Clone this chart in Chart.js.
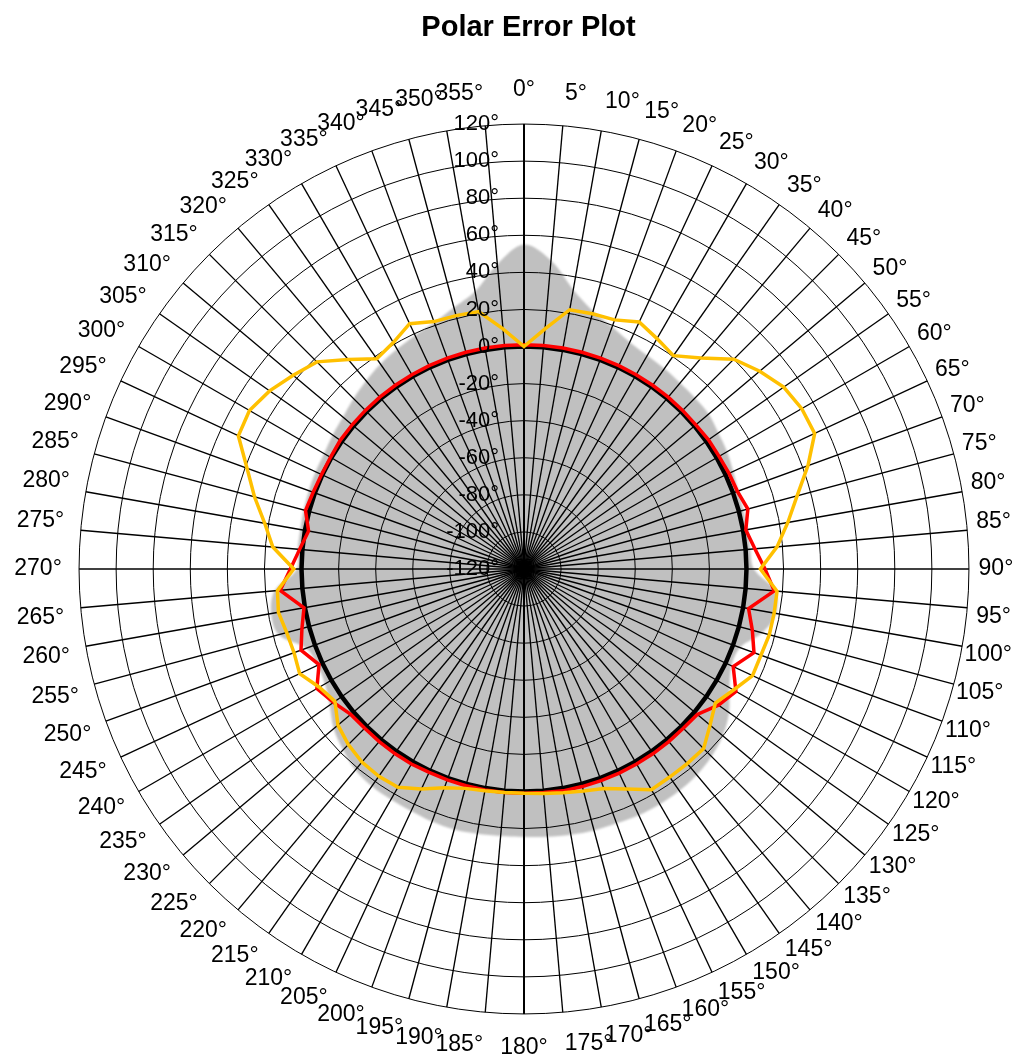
<!DOCTYPE html>
<html>
<head>
<meta charset="utf-8">
<title>Polar Error Plot</title>
<script src="https://cdn.jsdelivr.net/npm/chart.js@4.4.1/dist/chart.umd.min.js"></script>
<style>
  html, body { margin: 0; padding: 0; background: #fff; }
  #wrap { width: 1032px; height: 1057px; }
</style>
</head>
<body>
<div id="wrap"><canvas id="chart" width="1032" height="1057"></canvas></div>
<script>
// Bearing of each spoke, clockwise from north
const angles = [
  '0°','5°','10°','15°','20°','25°','30°','35°','40°','45°','50°','55°',
  '60°','65°','70°','75°','80°','85°','90°','95°','100°','105°','110°','115°',
  '120°','125°','130°','135°','140°','145°','150°','155°','160°','165°','170°','175°',
  '180°','185°','190°','195°','200°','205°','210°','215°','220°','225°','230°','235°',
  '240°','245°','250°','255°','260°','265°','270°','275°','280°','285°','290°','295°',
  '300°','305°','310°','315°','320°','325°','330°','335°','340°','345°','350°','355°'
];

// Radial axis ticks
const radialTicks = [-120, -100, -80, -60, -40, -20, 0, 20, 40, 60, 80, 100, 120];

// Reference level
const reference = [
  0,0,0,0,0,0,0,0,0,0,0,0, 0,0,0,0,0,0,0,0,0,0,0,0,
  0,0,0,0,0,0,0,0,0,0,0,0, 0,0,0,0,0,0,0,0,0,0,0,0,
  0,0,0,0,0,0,0,0,0,0,0,0, 0,0,0,0,0,0,0,0,0,0,0,0
];

// Measured error, series A
const seriesRed = [
  1, 1, 1, 1, 1, 1, 1, 1, 1, 1, 1, 1.5,
  1.5, 2, 2.5, 5, 1.5, 5, 10, 15.5, 3, 7.5, 12, 4.5,
  12, 8, 2, 1.5, 1.5, 1.5, 1.5, 1.5, 1.5, 1.5, 1.5, 1,
  1, 1, 1, 1, 1, 1, 1.5, 1.5, 1.5, 1.5, 2, 5.5,
  9, 2, 8, 4, 0.5, 12, 6, 1.5, -2, 2, 1, 0.5,
  0.5, 1, 1, 1, 1, 1, 1, 1, 1, 1, 1, 1
];

// Measured error, series B
const seriesOrange = [
  0, 10, 22, 22.5, 23, 27, 23.5, 20.5, 28.5, 40, 46, 51,
  53, 53, 43, 32.5, 24.5, 17, 7.5, 17, 17, 17, 16, 16,
  10.5, 6, 11, 17, 17, 17, 17.5, 11, 6, 4, 2.5, 1.5,
  1, 1, 1.5, 2.5, 5.5, 11, 16, 16.5, 16, 14, 11, 4.5,
  7.5, 13.5, 12, 12.5, 14.5, 13.5, 4.2, 16, 22, 30.5, 39, 50,
  51, 47.5, 42.5, 38, 27.5, 18.5, 21, 26, 22, 21.5, 21, 10
];

// Upper limit of the error band (band extends down to the scale minimum)
const errorUpper = [
  55, 47, 33, 24, 19, 15, 13, 12, 11, 10.5, 10, 8,
  6.5, 4.5, 3, 2.5, 2.5, 2.5, 4, 16, 18, 13, 4, 3.5,
  8, 15, 20, 23, 25, 26, 26.5, 26.5, 26, 26, 25.5, 25,
  24.5, 24.5, 25, 25.5, 25, 24, 23.5, 23, 21.5, 18, 14, 8,
  4, 3, 5, 17, 18.5, 15, 2.5, 2.5, 2.5, 3, 3.5, 4,
  4.5, 6, 7.5, 10, 12.5, 15, 17, 19, 21.5, 26, 32, 45
];

const FONT = 'Liberation Sans';
const LABEL_SIZE = 23;
const LABEL_LINE = 0.7;
// Angle labels are centred on a ring of this radius (px), the plot radius being ~445 px
const LABEL_RING = 479.5;
const PLOT_RADIUS = 445.5;

const measureCtx = document.createElement('canvas').getContext('2d');
measureCtx.font = LABEL_SIZE + 'px "' + FONT + '"';

// Soft edge on the band fill: the filler paints in beforeDraw,
// so the filter is switched on just before and off right after.
const bandBlur = {
  id: 'bandBlur',
  beforeRender(chart) {
    chart.ctx.save();
    chart.ctx.filter = 'blur(1px)';
  },
  beforeDraw(chart) {
    chart.ctx.restore();
  }
};

// Radial tick labels beside the 0° spoke, drawn above the data
const radialLabels = {
  id: 'radialLabels',
  afterDatasetsDraw(chart) {
    const r = chart.scales.r;
    const ctx = chart.ctx;
    ctx.save();
    ctx.font = '22px "' + FONT + '"';
    ctx.fillStyle = '#000';
    ctx.textAlign = 'right';
    ctx.textBaseline = 'middle';
    r.ticks.forEach(t => {
      const d = r.getDistanceFromCenterForValue(t.value);
      ctx.fillText(t.label, r.xCenter - 25, r.yCenter - d);
    });
    ctx.restore();
  }
};

// Chart heading
const heading = {
  id: 'heading',
  afterDraw(chart) {
    const ctx = chart.ctx;
    ctx.save();
    ctx.font = 'bold 29px "' + FONT + '"';
    ctx.fillStyle = '#000';
    ctx.textAlign = 'center';
    ctx.textBaseline = 'middle';
    ctx.fillText('Polar Error Plot', 528.5, 28);
    ctx.restore();
  }
};

new Chart(document.getElementById('chart'), {
  type: 'radar',
  data: {
    labels: angles,
    datasets: [
      { label: 'Series B', data: seriesOrange, borderColor: '#ffc000', borderWidth: 3.5, fill: false },
      { label: 'Series A', data: seriesRed, borderColor: '#ff0000', borderWidth: 3.5, fill: false },
      { label: 'Reference', data: reference, borderColor: '#000000', borderWidth: 4.5, fill: false },
      { label: 'Error band', data: errorUpper, borderWidth: 0, borderColor: 'rgba(0,0,0,0)',
        backgroundColor: '#c0c0c0', fill: 'start', tension: 0.35 }
    ]
  },
  options: {
    responsive: false,
    animation: false,
    events: [],
    elements: {
      point: { radius: 0, hitRadius: 0, hoverRadius: 0 },
      line: { tension: 0, borderJoinStyle: 'miter' }
    },
    layout: { padding: { top: 82, bottom: 1, left: 0, right: 4 } },
    plugins: {
      legend: { display: false },
      tooltip: { enabled: false },
      filler: { drawTime: 'beforeDraw' },
      title: { display: false }
    },
    scales: {
      r: {
        min: radialTicks[0],
        max: radialTicks[radialTicks.length - 1],
        startAngle: 0,
        ticks: {
          display: false,
          stepSize: radialTicks[1] - radialTicks[0],
          callback: v => v + '°'
        },
        grid: { circular: true, color: '#000', lineWidth: 1 },
        angleLines: {
          color: '#000',
          lineWidth: ctx => (ctx.index % 36 === 0 ? 2 : 1.35)
        },
        pointLabels: {
          color: '#000',
          font: { family: FONT, size: LABEL_SIZE, lineHeight: LABEL_LINE },
          padding: ctx => {
            const a = ctx.index * 5 * Math.PI / 180;
            const s = Math.sin(a), c = Math.cos(a);
            const w = measureCtx.measureText(ctx.label).width;
            const h = LABEL_SIZE * LABEL_LINE;
            return LABEL_RING - PLOT_RADIUS - 7 * s - (w / 2) * Math.abs(s) - (h / 2) * Math.abs(c);
          }
        }
      }
    }
  },
  plugins: [bandBlur, radialLabels, heading]
});
</script>
</body>
</html>
